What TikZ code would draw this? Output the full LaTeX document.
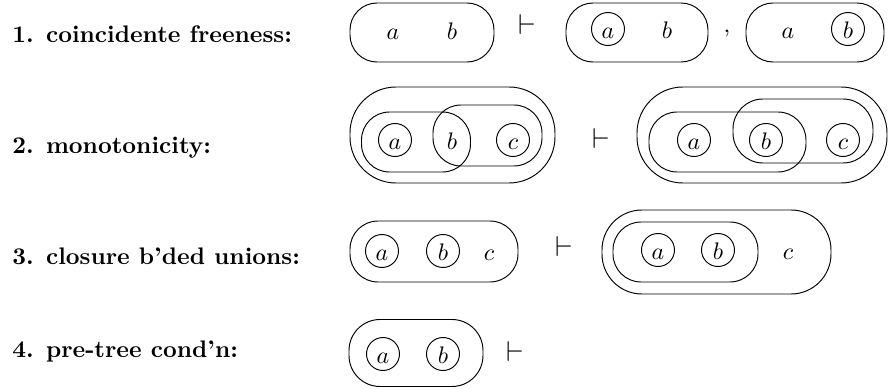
\documentclass[tikz,border=0pt]{standalone}
\newcommand\pxu{0.418pt}
\begin{document}
\begin{tikzpicture}[x=0.418pt, y=-0.418pt,
  oval/.style n args={3}{draw, rectangle, inner sep=0pt,
    minimum width=#1*\pxu, minimum height=#2*\pxu, rounded corners=#3*\pxu},
  sym/.style={inner sep=0pt, text height=7.6pt, text depth=0pt},
  ring/.style={sym, draw, circle, minimum size=33*\pxu},
  rulename/.style={font=\bfseries, anchor=base west, inner sep=0pt},
  punct/.style={anchor=base, inner sep=0pt},
  turnstile/.style={punct, font=\large}]
\useasboundingbox (0,0) rectangle (888,390);

% rule names
\node[rulename] (n1) at (12,43)  {1. coincidente freeness:};
\node[rulename] (n2) at (12,154) {2. monotonicity:};
\node[rulename] (n3) at (12,265) {3. closure b'ded unions:};
\node[rulename] (n4) at (12,358) {4. pre-tree cond'n:};

% 1. coincident freeness
\node[oval={144}{59}{27}] (p1) at (422,32.5) {};
\node[sym] (p1a) at (393,30.5) {$a$};
\node[sym] (p1b) at (452,30.5) {$b$};
\node[turnstile] (t1) at (527,35) {$\vdash$};
\node[oval={142}{59}{27}] (q1) at (637,32.5) {};
\node[ring] (q1a) at (608,29) {$a$};
\node[sym] (q1b) at (667,29) {$b$};
\node[punct] (c1) at (727,33) {,};
\node[oval={138}{59}{27}] (r1) at (815,32.5) {};
\node[sym] (r1a) at (788,29) {$a$};
\node[ring] (r1b) at (848,29) {$b$};

% 2. monotonicity
\node[oval={205}{96}{46}] (p2) at (452.5,135) {};
\node[oval={109}{60}{28}] (p2l) at (416,142) {};
\node[oval={109}{61}{28}] (p2r) at (487.5,135.5) {};
\node[ring] (p2a) at (395,140) {$a$};
\node[sym]  (p2b) at (452,140) {$b$};
\node[ring] (p2c) at (513,140) {$c$};
\node[turnstile] (t2) at (601,149) {$\vdash$};
\node[oval={250}{96}{46}] (q2) at (762,135) {};
\node[oval={157}{60}{28}] (q2l) at (727.5,142) {};
\node[oval={140}{64}{30}] (q2r) at (803,131) {};
\node[ring] (q2a) at (694,140) {$a$};
\node[ring] (q2b) at (766,140) {$b$};
\node[ring] (q2c) at (843,140) {$c$};

% 3. closure under bounded unions
\node[oval={168}{61}{28}] (p3) at (434,251.5) {};
\node[ring] (p3a) at (382,251) {$a$};
\node[ring] (p3b) at (443,251) {$b$};
\node[sym]  (p3c) at (489,251) {$c$};
\node[turnstile] (t3) at (564,257) {$\vdash$};
\node[oval={229}{84}{40}] (q3) at (716.5,252) {};
\node[oval={145}{60}{28}] (q3l) at (685.5,252) {};
\node[ring] (q3a) at (658,250) {$a$};
\node[ring] (q3b) at (718,250) {$b$};
\node[sym]  (q3c) at (788,250) {$c$};

% 4. pre-tree condition
\node[oval={134}{67}{31}] (p4) at (416,353) {};
\node[ring] (p4a) at (383,354) {$a$};
\node[ring] (p4b) at (443,354) {$b$};
\node[turnstile] (t4) at (515,362) {$\vdash$};
\end{tikzpicture}
\end{document}
